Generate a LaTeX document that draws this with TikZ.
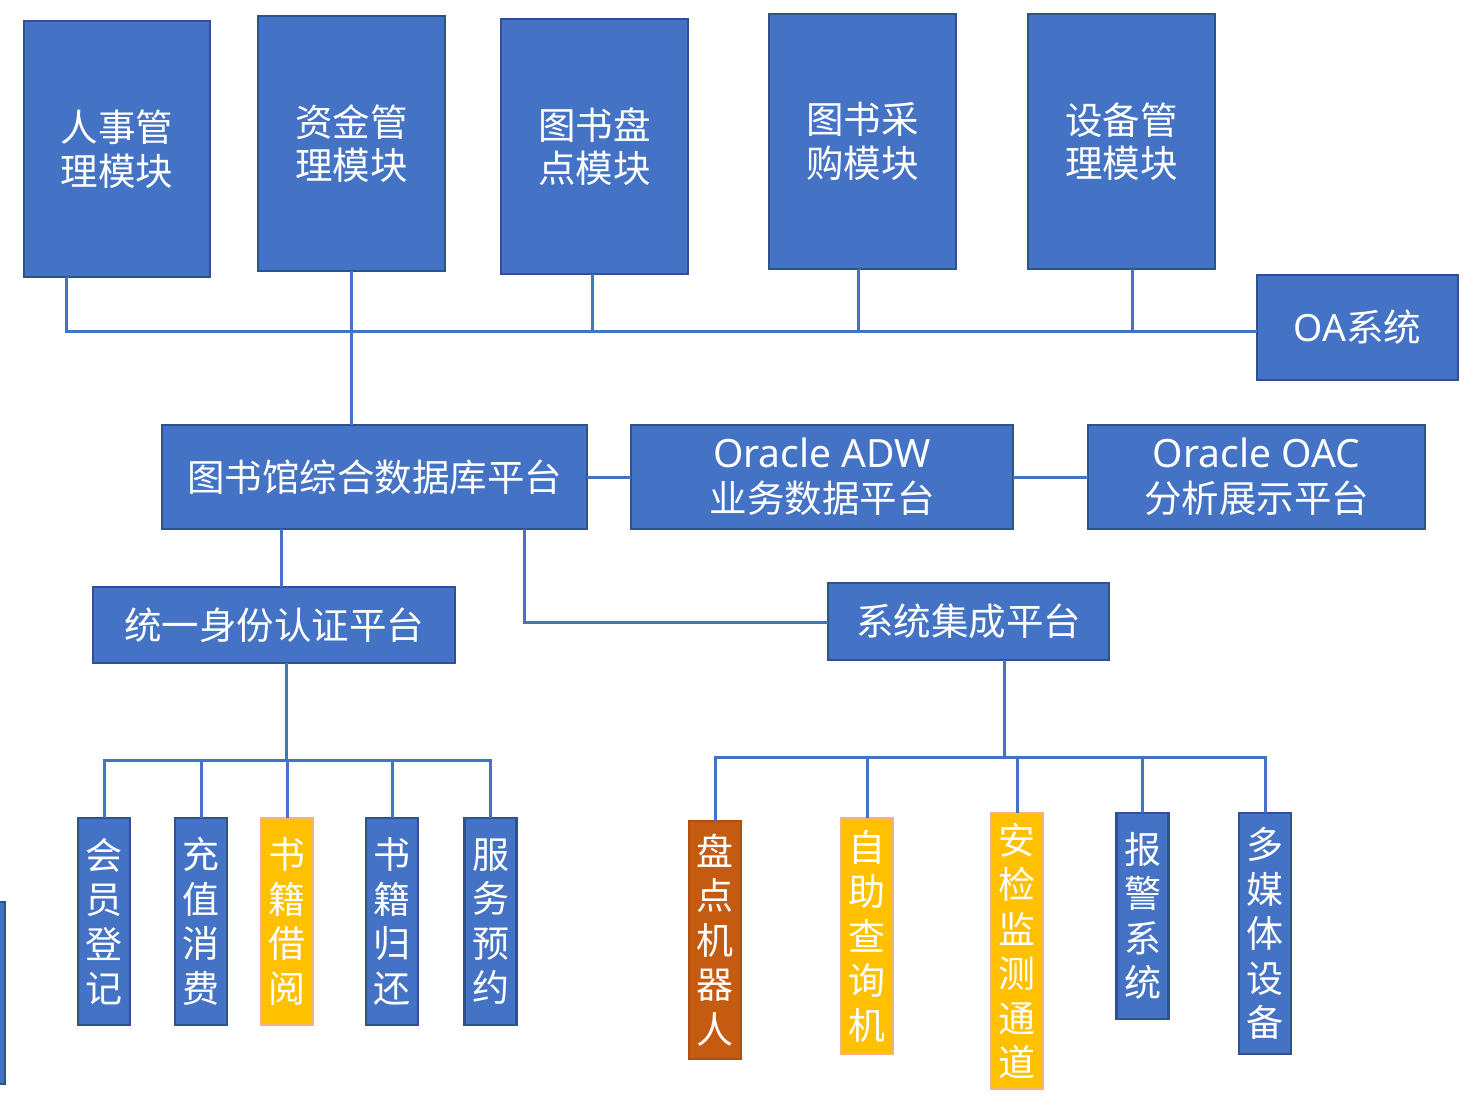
\documentclass[tikz,border=0pt]{standalone}
\usepackage{fontspec}
\newfontfamily\cjk{Noto Sans CJK SC}
\newfontfamily\lat{Noto Sans}
\definecolor{fblue}{HTML}{4472C4}
\definecolor{dblue}{HTML}{2F528F}
\definecolor{fyel}{HTML}{FFC000}
\definecolor{dyel}{HTML}{F4B183}
\definecolor{forg}{HTML}{C55A11}
\definecolor{dorg}{HTML}{B04F0E}
\tikzset{
  box/.style={draw=dblue, fill=fblue, line width=2.5pt, inner sep=0pt, outer sep=0pt,
    text=white, align=center, font=\cjk\fontsize{37.5}{43.5}\selectfont},
  ybox/.style={box, draw=dyel, fill=fyel},
  obox/.style={box, draw=dorg, fill=forg},
  vert/.style={minimum width=52, font=\cjk\fontsize{37}{44.5}\selectfont},
  conn/.style={draw=fblue, line width=3pt}
}
\begin{document}
\begin{tikzpicture}[x=1pt,y=-1pt]
\useasboundingbox (0,0) rectangle (1473,1095);
% top modules
\node[box, minimum width=186, minimum height=256] (rs) at (117,149) {人事管\\理模块};
\node[box, minimum width=187, minimum height=255] (zj) at (351.5,143.5) {资金管\\理模块};
\node[box, minimum width=187, minimum height=255] (pd) at (594.5,146.5) {图书盘\\点模块};
\node[box, minimum width=187, minimum height=255] (cg) at (862.5,141.5) {图书采\\购模块};
\node[box, minimum width=187, minimum height=255] (sb) at (1121.5,141.5) {设备管\\理模块};
\node[box, minimum width=201, minimum height=105] (oa) at (1357.5,327.5) {{\lat OA}系统};
% middle platforms
\node[box, minimum width=425, minimum height=104] (zh) at (374.5,477) {图书馆综合数据库平台};
\node[box, minimum width=382, minimum height=104, font=\cjk\fontsize{37.5}{45}\selectfont] (adw) at (822,477) {{\lat\fontsize{39}{45}\selectfont Oracle ADW}\\业务数据平台};
\node[box, minimum width=337, minimum height=104, font=\cjk\fontsize{37.5}{45}\selectfont] (oac) at (1256.5,477) {{\lat\fontsize{39}{45}\selectfont Oracle OAC}\\分析展示平台};
\node[box, minimum width=362, minimum height=76] (ty) at (274,625) {统一身份认证平台};
\node[box, minimum width=281, minimum height=77] (xt) at (968.5,621.5) {系统集成平台};
% bottom left
\node[box, vert, minimum height=207] (hy) at (104,921.5) {会\\员\\登\\记};
\node[box, vert, minimum height=207] (cz) at (201,921.5) {充\\值\\消\\费};
\node[ybox, vert, minimum height=207] (jy) at (287,921.5) {书\\籍\\借\\阅};
\node[box, vert, minimum height=207] (gh) at (392,921.5) {书\\籍\\归\\还};
\node[box, vert, minimum height=207] (fw) at (490.5,921.5) {服\\务\\预\\约};
% bottom right
\node[obox, vert, minimum height=238] (jq) at (715,940) {盘\\点\\机\\器\\人};
\node[ybox, vert, minimum height=236] (zz) at (867,936) {自\\助\\查\\询\\机};
\node[ybox, vert, minimum height=276] (aj) at (1017,951) {安\\检\\监\\测\\通\\道};
\node[box, vert, minimum height=206] (bj) at (1142.5,916) {报\\警\\系\\统};
\node[box, vert, minimum height=241] (dm) at (1265,933.5) {多\\媒\\体\\设\\备};
% partially visible box at left edge
\node[box, minimum width=45, minimum height=182] (cut) at (-17.5,993) {};
% top bus
\coordinate (b1) at (66,331);
\coordinate (b3) at (592,331);
\coordinate (b4) at (858,331);
\coordinate (b5) at (1132,331);
\draw[conn] (rs.south -| b1) -- (b1) -- (b1 -| oa.west);
\draw[conn] (zj.south) -- (zj.south |- zh.north);
\draw[conn] (pd.south -| b3) -- (b3);
\draw[conn] (cg.south -| b4) -- (b4);
\draw[conn] (sb.south -| b5) -- (b5);
% middle links
\draw[conn] (zh.east) -- (adw.west);
\draw[conn] (adw.east) -- (oac.west);
\coordinate (d1) at (281,529);
\draw[conn] (zh.south -| d1) -- (ty.north -| d1);
\coordinate (c2) at (524,622);
\draw[conn] (zh.south -| c2) -- (c2) -- (c2 -| xt.west);
% left tree
\coordinate (t1) at (286,760);
\draw[conn] (ty.south -| t1) -- (t1);
\draw[conn] (hy.north) -- (hy.north |- t1) -- (fw.north |- t1) -- (fw.north);
\draw[conn] (cz.north) -- (cz.north |- t1);
\draw[conn] (jy.north) -- (jy.north |- t1);
\draw[conn] (gh.north) -- (gh.north |- t1);
% right tree
\coordinate (s1) at (1004,757);
\draw[conn] (xt.south -| s1) -- (s1);
\draw[conn] (jq.north) -- (jq.north |- s1) -- (dm.north |- s1) -- (dm.north);
\draw[conn] (zz.north) -- (zz.north |- s1);
\draw[conn] (aj.north) -- (aj.north |- s1);
\draw[conn] (bj.north) -- (bj.north |- s1);
\end{tikzpicture}
\end{document}
